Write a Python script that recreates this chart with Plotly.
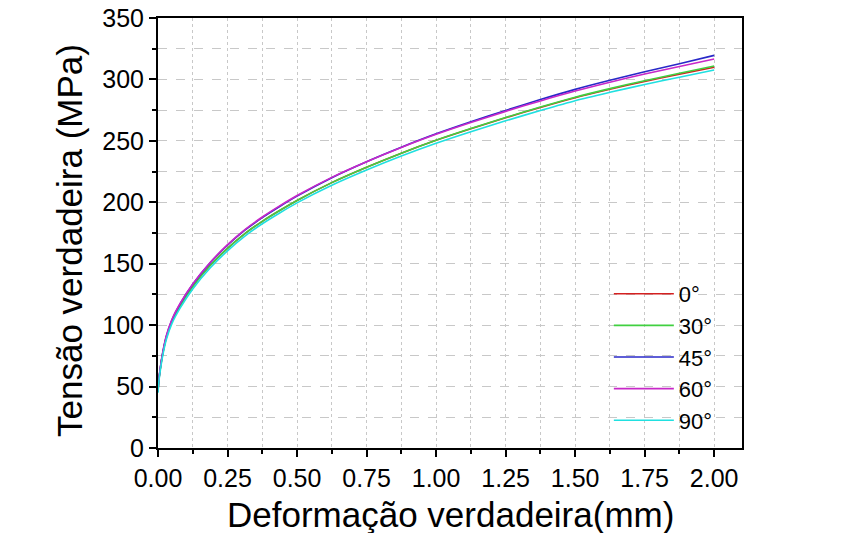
import plotly.graph_objects as go

strain = [0, 0.0025, 0.008, 0.016, 0.03, 0.05, 0.08, 0.125, 0.1875, 0.25, 0.3125, 0.375,
          0.4375, 0.5, 0.625, 0.75, 0.875, 1.0, 1.125, 1.25, 1.375, 1.5, 1.625, 1.75,
          1.875, 2.0]

s_0 = [46, 54, 64, 75.5, 90, 103, 116, 131.5, 148.5, 162.5, 174.5, 184.5,
       193.3, 201.5, 216, 228.5, 240, 250.5, 259.9, 268.8, 277.2, 285.1, 292, 298.4,
       304.3, 309.9]
s_30 = [46, 54, 64, 75.5, 90, 103, 116, 131.5, 148.5, 162.5, 174.5, 184.5,
        193.3, 201.5, 216, 228.5, 240, 250.5, 260, 269, 277.5, 285.5, 292.5, 299,
        305, 310.9]
s_45 = [46, 54.3, 64.5, 76.2, 91, 104.2, 117.5, 133.3, 150.7, 165, 177.25, 187.5,
        196.55, 205, 220, 233, 244.8, 255.7, 265.5, 274.8, 283.6, 291.9, 299.3, 306.2,
        312.8, 319.6]
s_60 = [46, 54.5, 64.8, 76.5, 91.3, 104.6, 117.8, 133.5, 151, 165.5, 177.75, 188,
        197.05, 205.5, 220.3, 233, 244.6, 255.3, 264.9, 274, 282.5, 290.5, 297.7, 304.4,
        310.6, 316.7]
s_90 = [45, 52.8, 62.6, 74, 88.3, 101.2, 114, 129.5, 146.5, 160.5, 172.5, 182.5,
        191.3, 199.5, 213.8, 226.2, 237.6, 248, 257.4, 266.3, 274.7, 282.7, 289.5, 295.9,
        301.8, 307.6]

names = ["0°", "30°", "45°", "60°", "90°"]
series = [s_0, s_30, s_45, s_60, s_90]
colors = ["#d42020", "#40d040", "#2828c8", "#c828c8", "#20e0e0"]

x_title = "Deformação verdadeira(mm)"
y_title = "Tensão verdadeira (MPa)"

FONT = "Liberation Sans"

fig = go.Figure()
for n, s, c in zip(names, series, colors):
    fig.add_trace(go.Scatter(x=strain, y=s, name=n, mode="lines",
                             line=dict(color=c, width=1.6, shape="spline", smoothing=0.8)))

fig.update_layout(
    width=848, height=533,
    margin=dict(l=158, r=106, t=18, b=85),
    paper_bgcolor="white", plot_bgcolor="white",
    font=dict(family=FONT, color="black"),
    showlegend=True,
    legend=dict(x=0.772, y=0.407, xanchor="left", yanchor="top",
                bgcolor="rgba(0,0,0,0)", font=dict(size=22, family=FONT),
                itemwidth=60, tracegroupgap=0),
    annotations=[
        dict(text=x_title, xref="paper", yref="paper", x=0.5, y=0,
             xanchor="center", yanchor="middle", yshift=-66, showarrow=False,
             font=dict(size=35, family=FONT)),
        dict(text=y_title, xref="paper", yref="paper", x=0, y=0.5,
             xanchor="center", yanchor="middle", xshift=-89, yshift=-8,
             textangle=-90, showarrow=False, font=dict(size=35, family=FONT)),
    ],
)

fig.update_xaxes(
    range=[0, 2.1], dtick=0.25, tick0=0, tickformat=".2f",
    showline=True, linecolor="black", linewidth=2, mirror=True,
    ticks="outside", ticklen=7, tickwidth=1.5, tickcolor="black",
    tickfont=dict(size=25, family=FONT), automargin=False,
    showgrid=True, gridcolor="#c8c8c8", gridwidth=1, griddash="dot",
    minor=dict(dtick=0.125, ticklen=4, tickwidth=1.5, tickcolor="black", ticks="outside",
               showgrid=True, gridcolor="#c8c8c8", gridwidth=1, griddash="dot"),
    zeroline=False,
)
fig.update_yaxes(
    range=[0, 350], dtick=50, tick0=0,
    showline=True, linecolor="black", linewidth=2, mirror=True,
    ticks="outside", ticklen=7, tickwidth=1.5, tickcolor="black",
    tickfont=dict(size=25, family=FONT), automargin=False,
    showgrid=True, gridcolor="#c8c8c8", gridwidth=1, griddash="dash",
    minor=dict(dtick=25, ticklen=4, tickwidth=1.5, tickcolor="black", ticks="outside",
               showgrid=True, gridcolor="#c8c8c8", gridwidth=1, griddash="dash"),
    zeroline=False,
)

fig.write_html("out.html")
